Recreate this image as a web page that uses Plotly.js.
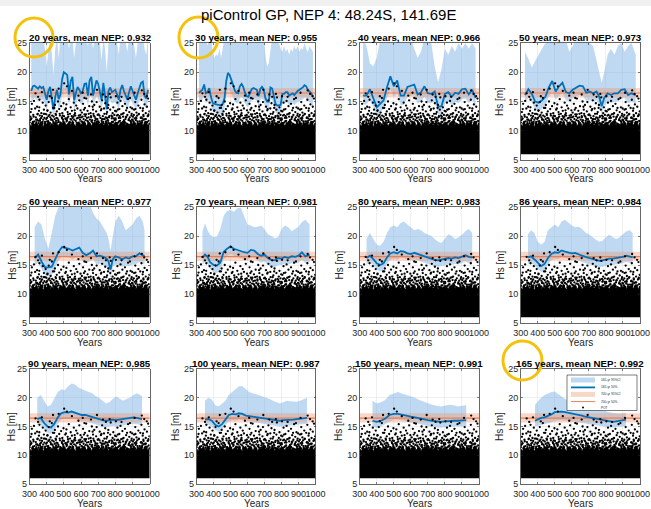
<!DOCTYPE html>
<html><head><meta charset="utf-8">
<script src="https://cdn.plot.ly/plotly-3.0.1.min.js"></script>
<style>html,body{margin:0;padding:0;background:#fff}#chart{width:651px;height:509px}</style>
</head><body><div id="chart"></div>
<script>
// ---------- data ----------
const windows = [20,30,40,50,60,70,80,86,90,100,150,165];
const meanNEP = ['0.932','0.955','0.966','0.973','0.977','0.981','0.983','0.984','0.985','0.987','0.991','0.992'];
const xTicks = [300,400,500,600,700,800,900,1000];
const yTicks = [5,10,15,20,25];

const x1 = [310,320,330,340,350,360,370,380,390,400,410,420,430,440,450,460,470,480,490,500,510,520,530,540,550,560,570,580,590,600,610,620,630,640,650,660,670,680,690,700,710,720,730,740,750,760,770,780,790,800,810,820,830,840,850,860,870,880,890,900,910,920,930,940,950,960,970,980,990];
const med1 = [16.8,17.6,17.7,17.4,17.2,17.6,17.3,17.5,16.2,15.3,16.8,17.5,15.5,13.6,15.8,17.0,15.4,16.2,18.8,20.0,19.8,19.5,16.2,18.5,19.2,15.2,16.4,17.5,17.0,16.4,16.8,18.0,18.1,16.0,18.6,19.2,16.0,17.2,18.6,18.0,16.8,15.3,18.2,16.2,13.7,16.8,17.4,16.6,16.8,17.0,16.2,15.3,17.0,17.8,16.8,16.0,15.3,16.6,17.6,16.8,16.0,15.3,16.4,17.4,18.2,18.4,16.0,15.5,17.0];
const lo1 = [15.0,15.4,15.6,15.3,15.1,15.4,15.2,15.3,14.4,13.6,14.8,15.2,13.8,12.0,13.9,14.9,13.7,14.3,16.0,16.8,16.7,16.4,14.3,15.8,16.2,13.5,14.5,15.3,15.0,14.5,14.8,15.6,15.7,14.2,15.9,16.3,14.2,15.1,15.9,15.5,14.8,13.6,15.6,14.3,12.2,14.8,15.2,14.6,14.8,14.9,14.3,13.6,14.9,15.4,14.8,14.2,13.6,14.6,15.3,14.8,14.2,13.6,14.5,15.2,15.7,15.8,14.2,13.8,15.0];
const hi1 = [26,26,26,26,26,26,26,26,24,21,23.5,26,23.2,19.5,24,26,22.5,26,26,26,26,26,24,26,26,22.5,25,26,26,25.5,26,26,26,24.5,26,26,24,26,26,26,25,22,26,24,20,25,26,26,26,26,25,23,26,26,26,25,23.5,26,26,26,24.5,22.5,25,26,26,26,24,23,26];

const x2 = [315,325,335,345,355,365,375,385,395,405,415,425,435,445,455,465,475,485,495,505,515,525,535,545,555,565,575,585,595,605,615,625,635,645,655,665,675,685,695,705,715,725,735,745,755,765,775,785,795,805,815,825,835,845,855,865,875,885,895,905,915,925,935,945,955,965,975,985];
const med2 = [16.5,16.7,17.0,17.9,16.4,16.6,17.3,15.8,14.8,14.6,14.5,14.5,14.4,14.3,14.6,15.6,18.5,19.9,19.5,18.8,17.9,16.9,16.5,16.4,17.6,18.0,17.5,16.5,15.9,15.8,16.5,17.1,17.3,17.2,17.0,15.9,17.1,17.5,17.1,15.6,15.0,15.0,17.4,17.2,15.8,14.6,14.3,14.3,14.4,16.3,16.3,16.6,16.6,16.0,16.2,16.4,16.1,16.5,16.8,17.0,17.2,17.4,17.8,17.6,17.0,16.7,16.4,15.8];
const lo2 = [14.9,15.0,15.2,15.8,14.8,14.9,15.3,14.2,13.3,13.1,13.0,13.0,12.9,12.8,13.1,13.9,16.0,17.0,16.8,16.3,15.7,15.0,14.7,14.6,15.5,15.8,15.4,14.7,14.2,14.1,14.7,15.2,15.3,15.3,15.1,14.2,15.2,15.5,15.2,14.0,13.5,13.5,15.4,15.3,14.2,13.1,12.9,12.9,13.0,14.6,14.6,14.8,14.8,14.3,14.5,14.7,14.4,14.7,14.9,15.1,15.2,15.4,15.7,15.6,15.1,14.9,14.7,14.2];
const hi2 = [26,26,26,26,26,24.5,26,26,23.5,22.5,23,22.8,24,22.5,24,26,26,26,26,26,26,26,26,26,26,26,26,26,25,26,26,26,26,26,26,25,26,26,26,23,21,21.5,24,26,25,26,26,25,24,23.5,24.5,23.5,24,23,24,23.5,24.5,23.8,24.5,23.5,24.2,23.8,25,24,23.5,24.5,24,23.5];

const x3 = [320,340,360,380,400,420,440,460,480,500,520,540,560,580,600,620,640,660,680,700,720,740,760,780,800,820,840,860,880,900,920,940,960,980];
const med3 = [16.0,16.0,17.1,15.5,14.0,14.6,15.2,17.4,19.3,17.6,18.6,16.0,16.0,17.5,17.7,17.9,16.2,16.6,17.6,16.4,16.3,16.7,14.1,14.2,16.3,16.6,15.8,16.5,16.3,17.1,17.2,16.2,17.0,15.6];
const lo3 = [14.5,14.5,15.4,14.0,12.6,13.1,13.7,15.6,17.0,15.8,16.6,14.4,14.4,15.8,15.9,16.1,14.6,15.0,15.8,14.8,14.7,15.0,12.7,12.8,14.7,15.0,14.3,14.9,14.7,15.4,15.5,14.7,15.3,14.1];
const hi3 = [25.5,24.5,21.5,21,22.5,25.5,26,26,26,26,26,25,26,26,26,24,22.5,23.5,26,26,25,21,18.3,20.5,24,23,24.5,23.5,25,24,25,24,25,24];

const x4 = [325,345,365,385,405,425,445,465,485,505,525,545,565,585,605,625,645,665,685,705,725,745,762,775,790,810,830,850,870,890,910,930,950,975];
const med4 = [16.1,17.1,16.3,15.0,14.8,15.2,15.8,17.4,18.5,16.7,17.6,18.2,16.6,16.4,17.0,17.4,17.7,17.6,16.5,16.7,16.4,16.7,15.7,14.2,15.6,16.4,16.1,16.4,16.4,17.0,17.1,16.1,16.4,16.1];
const lo4 = [14.7,15.6,14.9,13.6,13.3,13.7,14.4,15.8,16.8,15.3,16.0,16.5,15.2,15.0,15.5,15.9,16.1,16.0,15.1,15.2,15.0,15.2,14.3,12.8,14.2,15.0,14.7,15.0,15.0,15.5,15.6,14.7,15.0,14.6];
const hi4 = [23.5,22.3,20.8,22,23,24,25,26,26,26,26,26,25.5,23.5,24.5,26,26,26,25.5,25,24.5,22,19.5,18.2,20,23,24,23,24.5,25,23.5,24.5,25,23];

const x5 = [330,350,370,390,410,430,450,470,490,510,530,550,570,590,610,630,650,670,690,710,730,750,760,772,785,800,820,840,860,880,900,920,940,960,970];
const med5 = [16.2,16.8,15.6,14.6,14.6,14.7,16.0,17.3,18.1,18.0,17.8,17.5,17.8,18.0,17.1,16.7,17.0,17.5,16.5,16.6,16.4,16.1,15.6,14.2,16.0,16.5,16.3,16.0,16.3,16.1,16.5,16.5,17.0,16.7,16.5];
const lo5 = [14.9,15.4,14.3,13.2,13.1,13.2,14.6,15.8,16.5,16.5,16.3,16.0,16.3,16.4,15.7,15.3,15.6,16.0,15.1,15.2,15.0,14.7,14.2,12.8,14.6,15.1,14.9,14.7,14.9,14.8,15.1,15.1,15.5,15.3,15.1];
const hi5 = [21.5,22.5,22,19.5,17.8,20.5,23.5,25,26,26,25.5,26,26,25,26,25.5,25.5,24,23,22.5,21.5,20.5,19.5,17.5,20,22.5,23.5,22.5,21,21.5,22,23,23.5,22.5,21];

const x6 = [335,350,365,380,400,420,440,460,480,500,520,540,560,580,600,620,640,660,680,700,720,740,760,780,800,820,840,860,880,900,920,940,965];
const med6 = [16.2,16.8,16.4,15.5,15.0,14.9,15.4,17.3,17.8,18.2,17.8,17.6,17.3,17.2,17.1,17.6,17.5,16.9,16.6,16.8,16.2,15.9,15.8,16.2,16.1,16.4,16.2,16.5,16.4,16.6,17.2,16.5,16.8];
const lo6 = [15.0,15.6,15.2,14.3,13.8,13.6,14.1,16.0,16.5,16.9,16.6,16.4,16.1,16.0,15.9,16.3,16.3,15.7,15.4,15.6,15.0,14.7,14.6,15.0,15.0,15.2,15.1,15.3,15.2,15.4,15.9,15.3,15.5];
const hi6 = [20.8,22.2,21.0,20.2,19.8,19.9,21.2,23.5,24.3,24.5,24.2,24.8,24.9,23.5,22.0,21.8,21.5,21.6,21.8,21.2,20.3,20.0,19.6,19.8,21.2,21.8,21.5,20.8,21.2,21.6,22.4,22.8,22.0];

const x7 = [340,360,380,400,420,440,460,480,500,520,540,560,580,600,620,640,660,680,700,720,740,760,780,800,820,840,860,880,900,920,940,960];
const med7 = [16.2,16.6,16.0,15.3,15.0,15.3,16.3,17.0,17.2,17.0,17.4,17.3,17.0,16.9,17.1,16.9,16.6,16.5,16.3,16.1,15.9,15.8,15.9,16.0,16.2,16.1,16.3,16.2,16.5,16.7,16.4,16.3];
const lo7 = [15.1,15.5,14.9,14.2,13.9,14.2,15.2,15.9,16.1,15.9,16.3,16.2,15.9,15.8,16.0,15.8,15.5,15.4,15.2,15.0,14.8,14.7,14.8,14.9,15.1,15.0,15.2,15.1,15.4,15.6,15.3,15.2];
const hi7 = [19.5,20.5,19.5,18.5,18.3,19,20.5,21.5,21.8,21.5,22.2,22.5,22,21.5,21,21.2,21,20.5,20.3,20,19.5,19,18.8,19.5,20.3,20,19.5,19.8,20.2,20.8,21.2,20.5];

const x8 = [343,360,380,400,420,440,460,480,500,520,540,560,580,600,620,640,660,680,700,720,740,760,780,800,820,840,860,880,900,920,940,957];
const med8 = [16.3,16.5,16.0,15.4,14.8,15.2,16.2,16.9,17.2,17.1,17.5,17.3,17.1,17.0,17.1,16.8,16.6,16.4,16.2,16.0,15.8,15.7,15.8,16.0,16.1,16.1,16.2,16.2,16.4,16.6,16.4,16.3];
const lo8 = [15.2,15.4,14.9,14.3,13.8,14.1,15.1,15.8,16.1,16.0,16.4,16.2,16.0,15.9,16.0,15.7,15.5,15.3,15.1,14.9,14.7,14.6,14.7,14.9,15.0,15.0,15.1,15.1,15.3,15.5,15.3,15.2];
const hi8 = [20.3,21,20.5,19,18.5,19,21,21.5,22,21.5,22.5,22.8,22.3,21.8,21.5,21.6,21.2,20.6,20.3,19.8,19.4,19,19.2,19.8,20.2,19.8,19.5,19.8,20.3,20.8,21,20.5];

const x9 = [345,365,385,405,425,445,465,485,505,525,545,565,585,605,625,645,665,685,705,725,745,765,785,805,825,845,865,885,905,925,945,955];
const med9 = [16.3,16.5,15.6,15.0,14.8,15.5,16.6,17.3,17.5,17.4,17.6,17.4,17.1,17.0,17.0,16.8,16.6,16.5,16.3,16.1,16.0,16.1,16.2,16.1,16.2,16.2,16.3,16.4,16.6,16.5,16.3,16.3];
const lo9 = [15.2,15.4,14.5,13.9,13.7,14.4,15.5,16.2,16.4,16.3,16.5,16.3,16.0,15.9,15.9,15.7,15.5,15.4,15.2,15.0,14.9,15.0,15.1,15.0,15.1,15.1,15.2,15.3,15.5,15.4,15.2,15.2];
const hi9 = [20,20.5,19.5,18.5,18.8,19.8,21,21.5,21.3,22,22.5,22.3,21.8,21.5,21.2,21,20.8,20.3,20,19.5,19,19.2,19.8,20.2,19.8,19.5,19.8,20,20.5,20.8,20.5,20.2];

const x10 = [350,370,390,410,430,450,470,490,510,530,550,570,590,610,630,650,670,690,710,730,750,770,790,810,830,850,870,890,910,930,950];
const med10 = [16.2,16.3,16.0,15.3,15.0,15.4,16.2,17.0,17.2,17.1,17.3,17.2,16.9,16.8,16.8,16.7,16.5,16.5,16.3,16.2,16.1,16.0,16.0,16.1,16.1,16.2,16.2,16.3,16.4,16.5,16.5];
const lo10 = [15.2,15.3,15.0,14.4,14.1,14.5,15.2,15.9,16.1,16.0,16.2,16.1,15.9,15.8,15.8,15.7,15.5,15.5,15.3,15.2,15.1,15.0,15.0,15.1,15.1,15.2,15.2,15.3,15.4,15.5,15.5];
const hi10 = [19.5,20,19.7,18.7,18.5,19,19.5,20.5,21,21.5,22,22,21.5,21,20.8,20.6,20.5,20.3,20,19.8,19.5,19.2,19,19.2,19.5,19.4,19.3,19.3,19.5,19.8,20];

const x11 = [375,400,425,450,475,500,525,550,575,600,625,650,675,700,725,750,775,800,825,850,875,900,925];
const med11 = [16.0,15.8,16.0,16.4,17.0,17.2,17.2,17.0,16.8,16.7,16.6,16.4,16.3,16.1,16.0,15.9,15.8,15.9,16.0,16.0,16.0,16.1,16.1];
const lo11 = [15.0,14.8,15.0,15.4,15.9,16.2,16.2,16.0,15.8,15.7,15.6,15.4,15.3,15.1,15.0,14.9,14.8,14.9,15.0,15.0,15.0,15.1,15.1];
const hi11 = [19.5,19.0,19.2,19.6,20.5,20.8,21.0,20.7,20.5,20.2,20.0,19.6,19.3,19.0,18.8,18.6,18.5,18.6,18.8,18.7,18.5,18.6,18.7];

const x12 = [384,400,420,440,460,480,500,520,540,560,580,600,620,640,660,680,700,720,740,760,780,800,820,840,860,880,900,918];
const med12 = [16.0,16.2,16.5,16.6,16.8,17.1,17.5,17.6,17.6,17.5,17.4,17.3,17.2,17.0,16.9,16.7,16.6,16.4,16.3,16.2,16.1,16.1,15.9,15.8,15.9,16.0,16.1,16.2];
const lo12 = [15.0,15.1,15.3,15.4,15.5,15.7,16.0,16.1,16.1,16.0,16.0,15.9,15.8,15.7,15.6,15.5,15.4,15.3,15.2,15.1,15.0,15.0,14.9,14.8,14.9,15.0,15.0,15.1];
const hi12 = [18.8,19.4,20.0,20.5,20.8,21.0,21.1,20.6,20.2,19.8,19.5,19.3,19.0,18.9,18.8,18.6,18.4,18.2,18.1,18.0,17.8,17.7,17.5,17.4,17.3,17.2,17.3,17.4];

// 700-yr reference (whole record)
const yrs700 = [300,1000];
const lo700 = [15.7,15.7];
const hi700 = [17.3,17.3];
const med700 = [16.45,16.45];

// POT: dense core (threshold to ragged upper edge) + individual points above it
const potFloorYears = [300,1000];
const potFloor = [6.0,6.0];
const potEdgeYears = [300,310,320,330,340,350,360,370,380,390,400,410,420,430,440,450,460,470,480,490,500,510,520,530,540,550,560,570,580,590,600,610,620,630,640,650,660,670,680,690,700,710,720,730,740,750,760,770,780,790,800,810,820,830,840,850,860,870,880,890,900,910,920,930,940,950,960,970,980,990,1000];
const potEdge = [11.2,10.8,11.5,11.0,11.7,10.9,11.3,11.6,10.7,11.4,11.1,11.8,10.9,11.3,11.0,11.6,11.2,10.8,11.5,11.3,11.7,10.9,11.2,11.5,11.0,11.8,11.1,10.8,11.4,11.6,11.0,11.3,11.7,10.9,11.2,11.5,10.8,11.4,11.1,11.7,11.3,10.9,11.6,11.0,11.2,11.8,10.8,11.4,11.3,11.0,11.6,11.2,10.9,11.5,11.1,11.7,11.0,11.3,10.8,11.5,11.2,11.6,10.9,11.4,11.1,11.8,11.0,11.3,11.5,10.9,11.4];
const potYears = [303,307,311,314,318,322,326,329,333,337,340,344,348,351,355,358,362,366,369,373,377,380,384,387,391,394,398,305,320,345,360,375,390,396,
402,405,409,412,416,419,423,427,430,434,437,441,445,448,452,455,459,463,466,470,473,477,480,484,488,491,495,498,407,421,439,457,475,493,
501,504,508,511,515,518,522,526,529,533,536,540,543,547,551,554,558,561,565,569,572,576,579,583,587,590,594,597,506,520,538,556,574,592,
602,605,609,612,616,620,623,627,630,634,638,641,645,648,652,656,659,663,666,670,674,677,681,684,688,691,695,698,607,625,643,661,679,697,
702,705,709,713,716,720,723,727,730,734,738,741,745,748,752,755,759,763,766,770,773,777,780,784,788,791,795,798,711,729,743,761,782,793,
802,805,809,812,816,820,823,827,830,834,838,841,845,848,852,856,859,863,866,870,874,877,881,884,888,891,895,898,807,825,843,861,879,897,
902,905,909,912,916,919,923,927,930,934,937,941,945,948,952,955,959,963,966,970,973,977,980,984,988,991,995,998,907,921,939,957,975,993,
335,372,418,437,470,502,518,547,585,620,658,693,728,767,803,836,885,912,954,968,983,350,610,745,
301,309,316,324,331,339,346,353,361,368,376,383,389,397,
403,410,417,425,432,440,447,454,461,468,476,483,490,497,
502,509,516,524,531,539,546,553,560,567,575,582,589,596,
601,608,615,622,629,637,644,651,658,665,672,680,687,694,
701,708,715,722,729,736,743,751,758,765,772,779,786,794,
801,808,815,822,829,836,843,850,857,864,872,879,886,893,
901,908,915,922,929,936,943,950,957,964,971,978,985,992,999,
312,357,404,444,512,563,617,668,719,757,814,868,917,961];
const potHs = [11.8,13.2,12.1,14.6,11.3,12.7,15.1,11.6,13.8,12.3,11.1,14.1,12.9,11.7,13.4,15.3,12.0,11.4,13.0,12.5,14.8,11.9,13.6,12.2,11.5,14.3,12.8,12.4,11.5,11.9,12.6,11.2,12.9,11.0,
12.2,13.5,11.6,14.9,12.7,11.3,13.1,12.0,15.6,11.8,13.9,12.4,11.2,14.4,12.9,11.7,13.3,12.1,15.0,11.5,13.7,12.6,11.4,14.2,12.3,13.0,11.9,14.7,11.1,12.3,11.5,12.2,11.0,12.6,
12.5,11.3,13.6,12.0,14.5,11.8,13.2,12.4,15.4,11.5,12.9,14.0,11.9,13.4,12.2,11.4,14.8,12.7,13.0,11.7,14.3,12.1,13.8,11.2,12.6,15.2,11.9,13.5,11.0,12.2,11.4,12.4,11.1,12.3,
11.6,13.1,12.4,14.6,11.3,12.8,13.9,11.8,15.5,12.2,13.4,11.5,12.9,14.2,11.9,13.0,12.3,15.0,11.4,13.6,12.6,14.4,11.7,12.1,13.3,14.9,12.0,11.2,11.1,12.5,11.2,11.6,12.4,12.7,
12.8,11.4,14.1,12.2,13.5,11.7,15.2,12.5,11.3,13.8,12.0,14.7,11.6,12.9,13.2,11.9,14.4,12.3,11.2,13.6,15.7,12.6,11.5,13.0,14.0,12.1,11.8,13.4,11.0,12.0,12.3,11.3,12.4,11.1,
11.9,13.3,12.6,14.8,11.4,12.2,13.7,11.7,15.1,12.8,11.3,14.2,12.4,13.0,11.6,14.6,12.0,13.5,11.2,12.7,15.4,11.8,13.2,12.3,14.0,11.5,12.9,13.8,11.1,12.5,11.5,12.3,11.0,11.9,
12.4,11.5,13.6,12.1,14.9,11.8,13.1,12.6,11.3,14.3,12.9,11.6,13.9,12.2,15.3,11.4,13.4,12.7,11.9,14.5,12.0,13.0,11.2,14.1,12.5,15.5,11.7,13.3,11.0,12.3,11.2,12.1,11.5,12.8,
16.4,16.6,15.9,17.0,17.2,18.1,17.6,16.8,16.0,15.6,16.2,17.0,16.2,16.3,15.9,15.8,15.6,16.5,16.9,16.3,15.9,15.8,16.5,15.8,
11.4,12.0,11.2,12.4,11.0,11.9,12.8,11.3,11.7,12.2,11.5,12.9,11.2,12.0,
11.6,12.5,11.1,11.9,12.6,11.3,12.0,12.7,11.4,11.8,12.9,11.2,12.1,11.6,
11.2,12.1,11.6,12.8,11.1,12.0,12.5,11.3,11.9,12.6,11.4,12.2,11.0,12.7,
12.3,11.5,12.0,11.2,12.8,11.7,12.3,11.1,12.5,11.8,12.9,11.3,12.0,11.6,
11.6,12.6,11.1,12.0,11.5,12.9,11.2,12.2,11.7,12.5,11.0,12.1,11.5,12.7,
12.1,11.3,12.7,11.6,12.2,11.1,12.9,11.8,11.4,12.4,11.1,12.0,11.7,12.6,
11.8,12.7,11.2,12.1,11.6,12.8,11.1,12.3,11.7,12.5,11.3,12.0,11.5,12.6,11.2,
13.7,14.0,13.4,13.9,13.8,13.5,13.6,14.1,13.7,13.9,13.6,13.9,13.7,13.8];

const panelX   = [x1,x2,x3,x4,x5,x6,x7,x8,x9,x10,x11,x12];
const panelMed = [med1,med2,med3,med4,med5,med6,med7,med8,med9,med10,med11,med12];
const panelLo  = [lo1,lo2,lo3,lo4,lo5,lo6,lo7,lo8,lo9,lo10,lo11,lo12];
const panelHi  = [hi1,hi2,hi3,hi4,hi5,hi6,hi7,hi8,hi9,hi10,hi11,hi12];

// ---------- layout geometry (pixels) ----------
const W = 651, H = 509;
const colL = [29.5,196.5,359.7,520.7], colR = [149.7,315.5,479,640];
const rowT = [43,207,369], rowB = [160,323,484];
const yLabX = [11.7,175.5,338.5,499.5];
const px = v => v / W, py = v => 1 - v / H;

const FONT = 'Liberation Sans, Arial, Helvetica, sans-serif';
const TXT = '#262626';
const BLUE_BAND = 'rgba(110,170,225,0.45)';
const BLUE_LINE = '#0072BD';
const OR_BAND = 'rgba(238,150,110,0.38)';
const OR_LINE = '#E5805A';
const YELLOW = '#F4C20D';

const data = [];
const layout = {
  width: W, height: H,
  margin: {l:0, r:0, t:0, b:0},
  paper_bgcolor: '#ffffff', plot_bgcolor: '#ffffff',
  showlegend: false,
  font: {family: FONT, color: TXT, size: 9},
  annotations: [], shapes: []
};

for (let i = 0; i < 12; i++) {
  const r = Math.floor(i / 4), c = i % 4;
  const s = i === 0 ? '' : String(i + 1);
  const xa = 'x' + s, ya = 'y' + s;
  const common = {xaxis: xa, yaxis: ya, hoverinfo: 'skip', showlegend: false};

  data.push(Object.assign({x: panelX[i], y: panelLo[i], mode: 'lines', line: {width: 0}}, common));
  data.push(Object.assign({x: panelX[i], y: panelHi[i], mode: 'lines', line: {width: 0}, fill: 'tonexty', fillcolor: BLUE_BAND}, common));
  data.push(Object.assign({x: yrs700, y: lo700, mode: 'lines', line: {width: 0}}, common));
  data.push(Object.assign({x: yrs700, y: hi700, mode: 'lines', line: {width: 0}, fill: 'tonexty', fillcolor: OR_BAND}, common));
  data.push(Object.assign({x: yrs700, y: med700, mode: 'lines', line: {width: 1.1, color: OR_LINE}}, common));
  data.push(Object.assign({x: panelX[i], y: panelMed[i], mode: 'lines', line: {width: 1.8, color: BLUE_LINE}}, common));
  data.push(Object.assign({x: potFloorYears, y: potFloor, mode: 'lines', line: {width: 0}}, common));
  data.push(Object.assign({x: potEdgeYears, y: potEdge, mode: 'lines', line: {width: 0.5, color: '#000'}, fill: 'tonexty', fillcolor: '#000000'}, common));
  data.push(Object.assign({x: potYears, y: potHs, mode: 'markers', marker: {size: 2.3, color: '#000'}}, common));

  const axBase = {
    showline: true, linecolor: TXT, linewidth: 0.7, mirror: 'ticks',
    ticks: 'inside', ticklen: 2, tickcolor: TXT, tickwidth: 0.6,
    showgrid: true, gridcolor: '#e4e4e4', gridwidth: 0.6, zeroline: false,
    tickfont: {family: FONT, size: 9, color: TXT}, fixedrange: true, tickangle: 0
  };
  layout['xaxis' + s] = Object.assign({}, axBase, {
    domain: [px(colL[c]), px(colR[c])], anchor: ya, range: [300, 1000],
    tickmode: 'array', tickvals: xTicks, ticktext: xTicks.map(String), ticklabelstandoff: 1
  });
  layout['yaxis' + s] = Object.assign({}, axBase, {
    domain: [py(rowB[r]), py(rowT[r])], anchor: xa, range: [5, 25],
    tickmode: 'array', tickvals: yTicks, ticktext: yTicks.map(String), ticklabelstandoff: 0
  });

  layout.annotations.push({
    xref: 'paper', yref: 'paper', x: px((colL[c] + colR[c]) / 2), y: py(rowT[r] - 5.8),
    xanchor: 'center', yanchor: 'middle', showarrow: false,
    text: '<b>' + windows[i] + ' years, mean NEP: ' + meanNEP[i] + '</b>',
    font: {family: FONT, size: 9.7, color: '#000'}
  });
  layout.annotations.push({
    xref: 'paper', yref: 'paper', x: px((colL[c] + colR[c]) / 2), y: py(rowB[r] + 19),
    xanchor: 'center', yanchor: 'middle', showarrow: false, text: 'Years',
    font: {family: FONT, size: 10, color: TXT}
  });
  layout.annotations.push({
    xref: 'paper', yref: 'paper', x: px(yLabX[c]), y: py((rowT[r] + rowB[r]) / 2),
    xanchor: 'center', yanchor: 'middle', showarrow: false, text: 'Hs [m]', textangle: -90,
    font: {family: FONT, size: 10, color: TXT}
  });
}

layout.annotations.push({
  xref: 'paper', yref: 'paper', x: px(328.5), y: py(14.8), xanchor: 'center', yanchor: 'middle',
  showarrow: false, text: 'piControl GP, NEP 4: 48.24S, 141.69E',
  font: {family: FONT, size: 15, color: '#000'}
});

layout.shapes.push({type: 'rect', xref: 'paper', yref: 'paper', x0: 0, x1: 1, y0: py(6), y1: 1,
  fillcolor: '#f0f0f0', line: {width: 0}, layer: 'below'});

const legendLabels = ['165-yr 95%CI', '165-yr 50%', '700-yr 95%CI', '700-yr 50%', 'POT'];
const legRowY = [380, 387.4, 394.4, 401.6, 407.6];
layout.shapes.push({type: 'rect', xref: 'paper', yref: 'paper', x0: px(567), x1: px(637), y0: py(410.5), y1: py(375),
  fillcolor: '#ffffff', line: {color: TXT, width: 0.6}});
layout.shapes.push({type: 'rect', xref: 'paper', yref: 'paper', x0: px(571), x1: px(595), y0: py(legRowY[0] + 2.5), y1: py(legRowY[0] - 2.5),
  fillcolor: BLUE_BAND, line: {width: 0}});
layout.shapes.push({type: 'line', xref: 'paper', yref: 'paper', x0: px(571), x1: px(595), y0: py(legRowY[1]), y1: py(legRowY[1]),
  line: {color: BLUE_LINE, width: 1.8}});
layout.shapes.push({type: 'rect', xref: 'paper', yref: 'paper', x0: px(571), x1: px(595), y0: py(legRowY[2] + 2.5), y1: py(legRowY[2] - 2.5),
  fillcolor: OR_BAND, line: {width: 0}});
layout.shapes.push({type: 'line', xref: 'paper', yref: 'paper', x0: px(571), x1: px(595), y0: py(legRowY[3]), y1: py(legRowY[3]),
  line: {color: OR_LINE, width: 1}});
layout.shapes.push({type: 'circle', xref: 'paper', yref: 'paper', x0: px(582), x1: px(584), y0: py(legRowY[4] + 1), y1: py(legRowY[4] - 1),
  fillcolor: '#000', line: {width: 0}});
legendLabels.forEach((t, k) => {
  layout.annotations.push({xref: 'paper', yref: 'paper', x: px(599), y: py(legRowY[k]), xanchor: 'left', yanchor: 'middle',
    showarrow: false, text: t, font: {family: FONT, size: 3.2, color: TXT}});
});

[[15, 18, 53, 57], [179, 17, 218, 58], [503, 341, 542, 380]].forEach(b => {
  layout.shapes.push({type: 'circle', xref: 'paper', yref: 'paper', x0: px(b[0]), x1: px(b[2]), y0: py(b[3]), y1: py(b[1]),
    line: {color: YELLOW, width: 3}, fillcolor: 'rgba(0,0,0,0)'});
});

Plotly.newPlot('chart', data, layout, {staticPlot: true, displayModeBar: false});
</script>
</body></html>
